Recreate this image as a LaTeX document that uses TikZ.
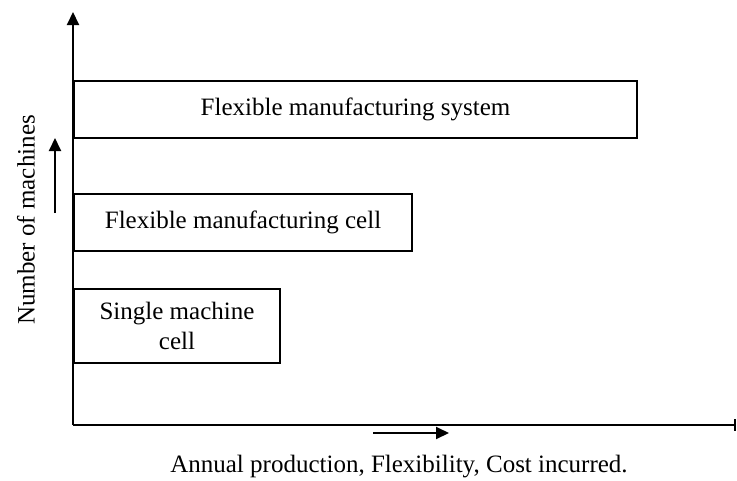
\documentclass[tikz,border=0pt]{standalone}
\usepackage{fontspec}
\setmainfont{Liberation Serif}
\usetikzlibrary{positioning}
\usetikzlibrary{arrows.meta}
\begin{document}
\begin{tikzpicture}[x=1pt,y=-1pt,
    level/.style={draw, line width=2pt, anchor=north west, inner sep=0pt, align=center, font=\fontsize{25}{30}\selectfont},
    axis/.style={line width=2pt}]
            \useasboundingbox (0,0) rectangle (737,480);
            % Axes
            \coordinate (origin) at (73,425);
            \coordinate (ytop) at (73,12);
            \coordinate (xend) at (736,425);
            \draw[axis, ->, >={Triangle[length=13pt,width=12pt]}] (origin) -- (ytop);
            \draw[axis, -{Bar[width=12pt]}] (origin) -- (xend);
            % Direction arrows
            \coordinate (xa) at (373,433);
            \coordinate (xb) at (449,433);
            \coordinate (ya) at (55,213);
            \coordinate (yb) at (55,138);
            \draw[axis, ->, >={Triangle[length=13pt,width=12pt]}] (xa) -- (xb);
            \draw[axis, ->, >={Triangle[length=13pt,width=12pt]}] (ya) -- (yb);
            % Labels of the axes
            \node[rotate=90, font=\fontsize{25}{30}\selectfont] (ylabel) at (26,220) {Number of machines};
            \node[font=\fontsize{25}{30}\selectfont] (xlabel) at (399,467) {Annual production, Flexibility, Cost incurred.};
            % Boxes
            \node[level, minimum width=563pt, minimum height=57pt] (fms) at (73,80) {Flexible manufacturing system};
            \node[level, minimum width=338pt, minimum height=57pt] (fmc) at (73,193) {Flexible manufacturing cell};
            \node[level, minimum width=206pt, minimum height=74pt] (smc) at (73,288) {Single machine\\cell};
        \end{tikzpicture}
\end{document}
